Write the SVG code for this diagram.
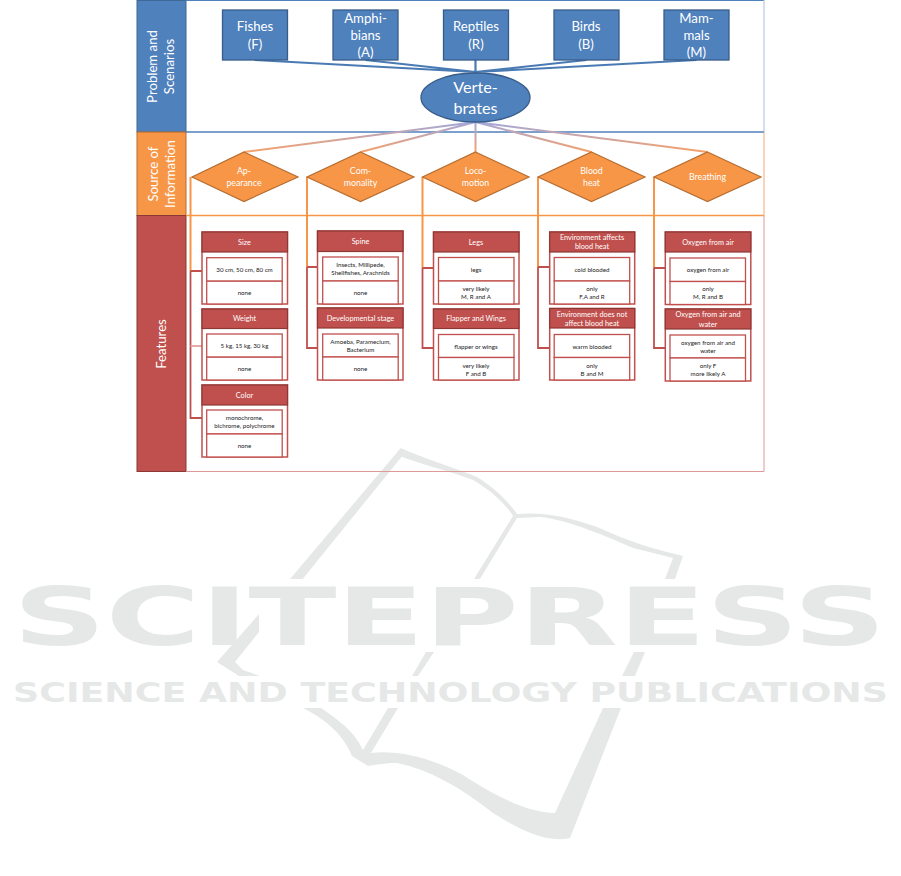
<svg xmlns="http://www.w3.org/2000/svg" width="901" height="876" viewBox="0 0 901 876">
<style>
text{font-family:Lato,"Liberation Sans",Arial,sans-serif;text-anchor:middle}
.wm{fill:#e6e8e8;stroke:none}
.wmt{fill:#e6e8e8;font-family:"DejaVu Sans",sans-serif;font-weight:700;text-anchor:start}
.band{font-size:13.200px;fill:#fff}
.blue{fill:#4f81bd;stroke:#385d8a;stroke-width:1.3}
.dia{fill:#f79646;stroke:#b66d31;stroke-width:1.2}
.nt{font-size:13.200px;fill:#fff}
.dt{font-size:8.800px;fill:#fff}
.card{fill:#fff;stroke:#c0504d;stroke-width:1.5}
.head{fill:#c0504d;stroke:#8c3836;stroke-width:1.200}
.in{fill:#fff;stroke:#c0504d;stroke-width:1.300}
.ct{font-size:7.300px;fill:#fff}
.bt{font-size:6.200px;fill:#222}
.cb{fill:none;stroke:#4a7ab4;stroke-width:2.200}
.cm{fill:none;stroke:url(#gm);stroke-width:2}
.co{fill:none;stroke:#f79646;stroke-width:2}
.cr{fill:none;stroke:#c0504d;stroke-width:1.800}
</style>
<defs>
<linearGradient id="gm" gradientUnits="userSpaceOnUse" x1="0" y1="122" x2="0" y2="152">
<stop offset="0" stop-color="#a3a9dc"/><stop offset="1" stop-color="#f6a16a"/>
</linearGradient>
</defs>
<rect width="901" height="876" fill="#fff"/>
<g id="watermark">
<text class="wmt" x="13" y="645" font-size="80" textLength="873" lengthAdjust="spacingAndGlyphs">SCITEPRESS</text>
<text class="wmt" x="13" y="702" font-size="26" textLength="875" lengthAdjust="spacingAndGlyphs">SCIENCE AND TECHNOLOGY PUBLICATIONS</text>
<path class="wm" d="M400.700 448 290 579H302.700L401.700 456.700C420 464 447 470 473 480 490 490 505 503 513 516L474 579H480L517 518 540 517C563 519 597 532 633 548L673 558 665 579H675L683 556C650 548 633 543 597 527 563 515 540 512 517 514 505 497 490 485 477 477 450 466 423 458 400.700 448Z"/>
<path class="wm" d="M259 614V632L235 662 243 670 260 676H239L217 662Z"/>
<path class="wm" d="M441 630H447L440 641ZM426 652H434L418 676H412ZM634 652H645L635 676H622Z"/>
<path class="wm" d="M303 708H321C343 723 355 733 363 750L388 708H398L371 753C397 750 430 757 463 775 497 797 527 812 555 813L603 708H621L570 838C547 843 523 832 493 813 460 787 430 770 397 763 385 763 375 765 368 766L352 756C343 733 323 718 303 708Z"/>
</g>
<g id="bands">
<rect x="137" y="0.500" width="49" height="131.500" fill="#4f81bd" stroke="#3f6797"/>
<rect x="137" y="132" width="49" height="83.500" fill="#f79646" stroke="#b66d31"/>
<rect x="137" y="215.500" width="49" height="256" fill="#c0504d" stroke="#8c3836"/>
<text class="band" transform="translate(157 66.500) rotate(-90)">Problem and</text>
<text class="band" transform="translate(174 66.500) rotate(-90)">Scenarios</text>
<text class="band" transform="translate(158 174) rotate(-90)">Source of</text>
<text class="band" transform="translate(175 174) rotate(-90)">Information</text>
<text class="band" transform="translate(166 344) rotate(-90)">Features</text>
</g>
<g id="frame" fill="none">
<path d="M186 0.500H764" stroke="#4f81bd" stroke-width="1"/>
<path d="M764 0V132" stroke="#a9c0de" stroke-width="1"/>
<path d="M186 132H764" stroke="#4f81bd" stroke-width="1.500"/>
<path d="M764 132V215.500" stroke="#f7a873" stroke-width="1"/>
<path d="M186 215.500H764" stroke="#f79646" stroke-width="1.500"/>
<path d="M764 215.500V471.500H186" stroke="#dc9a98" stroke-width="1"/>
</g>
<g id="connectors">
<path class="cb" d="M254.500 60 475.500 72M365.500 60 475.500 72M475.500 60V72M586.500 60 475.500 72M696.500 60 475.500 72"/>
<path class="cm" d="M244 152 475.500 122M360.500 152 475.500 122M591.500 152 475.500 122M707.500 152 475.500 122"/>
<path d="M475.500 122V152" fill="none" stroke="url(#gm)" stroke-width="2"/>
<path class="co" d="M190.500 177V271M307 177V267M422.500 177V268M538 177V267M654 177V268"/>
<path class="cr" d="M190.500 271V418H202M190.500 271H202M307 267V348H318M307 267H318M422.500 268V348H433M422.500 268H433M538 267V348H549M538 267H549M654 268V348H665M654 268H665"/>
<path d="M190.500 346H202" stroke="#e2a29f" stroke-width="1.800"/>
</g>
<g id="n-fishes"><rect class="blue" x="222.500" y="10" width="65" height="50"/><text class="nt" x="255" y="31">Fishes</text><text class="nt" x="255" y="48.500">(F)</text></g>
<g id="n-amphibians"><rect class="blue" x="333" y="10" width="65" height="50"/><text class="nt" x="365.500" y="23">Amphi-</text><text class="nt" x="365.500" y="40">bians</text><text class="nt" x="365.500" y="57">(A)</text></g>
<g id="n-reptiles"><rect class="blue" x="443.500" y="10" width="65" height="50"/><text class="nt" x="476" y="31">Reptiles</text><text class="nt" x="476" y="48.500">(R)</text></g>
<g id="n-birds"><rect class="blue" x="554" y="10" width="65" height="50"/><text class="nt" x="586" y="31">Birds</text><text class="nt" x="586" y="48.500">(B)</text></g>
<g id="n-mammals"><rect class="blue" x="664" y="10" width="65" height="50"/><text class="nt" x="696.500" y="23">Mam-</text><text class="nt" x="696.500" y="40">mals</text><text class="nt" x="696.500" y="57">(M)</text></g>
<g id="n-vertebrates"><ellipse class="blue" cx="475.500" cy="97.500" rx="54.500" ry="24.500"/><text x="475.500" y="93" font-size="16.200" fill="#fff">Verte-</text><text x="475.500" y="114" font-size="16.200" fill="#fff">brates</text></g>
<g id="d-appearance"><path class="dia" d="M244 152 298 177 244 201.500 192 177Z"/><text class="dt" x="244" y="174">Ap-</text><text class="dt" x="244" y="186">pearance</text></g>
<g id="d-commonality"><path class="dia" d="M360.500 152 414 177 360.500 201.500 307 177Z"/><text class="dt" x="360.500" y="174">Com-</text><text class="dt" x="360.500" y="186">monality</text></g>
<g id="d-locomotion"><path class="dia" d="M475.500 152 529 177 475.500 201.500 422.500 177Z"/><text class="dt" x="475.500" y="174">Loco-</text><text class="dt" x="475.500" y="186">motion</text></g>
<g id="d-blood"><path class="dia" d="M591.500 152 645 177 591.500 201.500 538 177Z"/><text class="dt" x="591.500" y="174">Blood</text><text class="dt" x="591.500" y="186">heat</text></g>
<g id="d-breathing"><path class="dia" d="M707.500 152 761 177 707.500 201.500 654 177Z"/><text class="dt" x="707.500" y="180">Breathing</text></g>

<g id="c-size"><rect class="card" x="202" y="232" width="85.500" height="72"/><rect class="head" x="202" y="232" width="85.500" height="20"/><rect class="in" x="206.700" y="257.700" width="75.500" height="23.500"/><rect class="in" x="206.700" y="281.200" width="75.500" height="22.800"/><text class="ct" x="244.500" y="244.500">Size</text><text class="bt" x="244.500" y="271.500">30 cm, 50 cm, 80 cm</text><text class="bt" x="244.500" y="295">none</text></g>
<g id="c-weight"><rect class="card" x="202" y="309" width="85.500" height="71"/><rect class="head" x="202" y="309" width="85.500" height="19.500"/><rect class="in" x="206.700" y="334" width="75.500" height="23.200"/><rect class="in" x="206.700" y="357.200" width="75.500" height="22.800"/><text class="ct" x="244.500" y="321">Weight</text><text class="bt" x="244.500" y="347.500">5 kg, 15 kg, 30 kg</text><text class="bt" x="244.500" y="371">none</text></g>
<g id="c-color"><rect class="card" x="202" y="385" width="85.500" height="72"/><rect class="head" x="202" y="385" width="85.500" height="20"/><rect class="in" x="206.700" y="410" width="75.500" height="24"/><rect class="in" x="206.700" y="434" width="75.500" height="23"/><text class="ct" x="244.500" y="397.500">Color</text><text class="bt" x="244.500" y="420">monochrome,</text><text class="bt" x="244.500" y="428">bichrome, polychrome</text><text class="bt" x="244.500" y="447.500">none</text></g>

<g id="c-spine"><rect class="card" x="317.500" y="231" width="85.500" height="73"/><rect class="head" x="317.500" y="231" width="85.500" height="20.500"/><rect class="in" x="322.700" y="257" width="75.500" height="24"/><rect class="in" x="322.700" y="281" width="75.500" height="23"/><text class="ct" x="360.500" y="243.500">Spine</text><text class="bt" x="360.500" y="267">Insects, Millipede,</text><text class="bt" x="360.500" y="275">Shellfishes, Arachnids</text><text class="bt" x="360.500" y="294.500">none</text></g>
<g id="c-dev"><rect class="card" x="317.500" y="308" width="85.500" height="72"/><rect class="head" x="317.500" y="308" width="85.500" height="20"/><rect class="in" x="322.700" y="334" width="75.500" height="23"/><rect class="in" x="322.700" y="357" width="75.500" height="23"/><text class="ct" x="360.500" y="320.500">Developmental stage</text><text class="bt" x="360.500" y="344">Amoeba, Paramecium,</text><text class="bt" x="360.500" y="352">Bacterium</text><text class="bt" x="360.500" y="371">none</text></g>

<g id="c-legs"><rect class="card" x="433.500" y="232" width="85.500" height="72"/><rect class="head" x="433.500" y="232" width="85.500" height="20"/><rect class="in" x="438.500" y="257.500" width="75.500" height="23.500"/><rect class="in" x="438.500" y="281" width="75.500" height="23"/><text class="ct" x="476" y="244.500">Legs</text><text class="bt" x="476" y="271.500">legs</text><text class="bt" x="476" y="290.500">very likely</text><text class="bt" x="476" y="298.500">M, R and A</text></g>
<g id="c-flapper"><rect class="card" x="433.500" y="309" width="85.500" height="71"/><rect class="head" x="433.500" y="309" width="85.500" height="19.500"/><rect class="in" x="438.500" y="334.500" width="75.500" height="23"/><rect class="in" x="438.500" y="357.500" width="75.500" height="22.500"/><text class="ct" x="476" y="321">Flapper and Wings</text><text class="bt" x="476" y="348.500">flapper or wings</text><text class="bt" x="476" y="367.500">very likely</text><text class="bt" x="476" y="375.500">F and B</text></g>

<g id="c-env"><rect class="card" x="549.700" y="232" width="85" height="72"/><rect class="head" x="549.700" y="232" width="85" height="20"/><rect class="in" x="554.200" y="257.500" width="75.500" height="23.500"/><rect class="in" x="554.200" y="281" width="75.500" height="23"/><text class="ct" x="592" y="239.500">Environment affects</text><text class="ct" x="592" y="249">blood heat</text><text class="bt" x="592" y="271.500">cold blooded</text><text class="bt" x="592" y="290.500">only</text><text class="bt" x="592" y="298.500">F,A and R</text></g>
<g id="c-envnot"><rect class="card" x="549.700" y="308.500" width="85" height="71.500"/><rect class="head" x="549.700" y="308.500" width="85" height="19.500"/><rect class="in" x="554.200" y="334.500" width="75.500" height="23"/><rect class="in" x="554.200" y="357.500" width="75.500" height="22.500"/><text class="ct" x="592" y="316.500">Environment does not</text><text class="ct" x="592" y="326">affect blood heat</text><text class="bt" x="592" y="348.500">warm blooded</text><text class="bt" x="592" y="367.500">only</text><text class="bt" x="592" y="375.500">B and M</text></g>

<g id="c-oxy"><rect class="card" x="665.300" y="232" width="85.500" height="72.500"/><rect class="head" x="665.300" y="232" width="85.500" height="20"/><rect class="in" x="670" y="258" width="75.500" height="23.500"/><rect class="in" x="670" y="281.500" width="75.500" height="23"/><text class="ct" x="708" y="244.500">Oxygen from air</text><text class="bt" x="708" y="272">oxygen from air</text><text class="bt" x="708" y="291">only</text><text class="bt" x="708" y="299">M, R and B</text></g>
<g id="c-oxywater"><rect class="card" x="665.300" y="309" width="85.500" height="72"/><rect class="head" x="665.300" y="309" width="85.500" height="20"/><rect class="in" x="670" y="335" width="75.500" height="23"/><rect class="in" x="670" y="358" width="75.500" height="23"/><text class="ct" x="708" y="317">Oxygen from air and</text><text class="ct" x="708" y="326.500">water</text><text class="bt" x="708" y="344.500">oxygen from air and</text><text class="bt" x="708" y="353">water</text><text class="bt" x="708" y="368">only F</text><text class="bt" x="708" y="376">more likely A</text></g>
</svg>
